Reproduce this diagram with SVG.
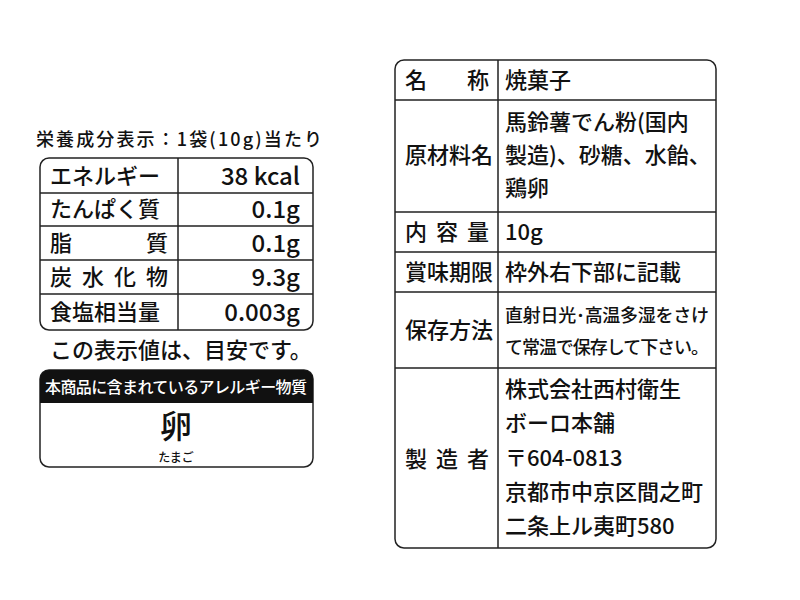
<svg xmlns="http://www.w3.org/2000/svg" width="800" height="600" viewBox="0 0 800 600">
<style>
text{font-family:"Noto Sans CJK JP","Noto Sans",sans-serif;fill:#111;font-weight:500}
.t{font-size:22px}
.s{font-size:18px}
.l{stroke:#222;stroke-width:1.5;fill:none}
</style>
<rect width="800" height="600" fill="#fff"/>
<g id="nutrition">
<text x="36" y="146" font-size="18" textLength="286">栄養成分表示：1袋(10g)当たり</text>
<rect class="l" x="40" y="158" width="273" height="172" rx="9"/>
<path class="l" d="M178 158V330M40 193H313M40 226H313M40 260H313M40 294H313"/>
<text class="t" x="50" y="184">エネルギー</text>
<text class="t" x="50" y="217">たんぱく質</text>
<text class="t" x="50" y="251" textLength="118">脂　　質</text>
<text class="t" x="50" y="285" textLength="118">炭 水 化 物</text>
<text class="t" x="50" y="320">食塩相当量</text>
<g text-anchor="end" font-size="24"><text x="300" y="185">38 kcal</text><text x="300" y="218">0.1g</text><text x="300" y="252">0.1g</text><text x="300" y="286">9.3g</text><text x="300" y="321">0.003g</text></g>
<text class="t" x="50" y="358">この表示値は、目安です。</text>
</g>
<g id="allergen">
<rect class="l" x="40" y="370" width="273" height="97" rx="9"/>
<path d="M49 370H304A9 9 0 0 1 313 379V403H40V379A9 9 0 0 1 49 370Z" fill="#111"/>
<text x="45" y="393" font-size="16" textLength="262" style="fill:#fff">本商品に含まれているアレルギー物質</text>
<text x="176" y="438" font-size="32" text-anchor="middle">卵</text>
<text x="176" y="462" font-size="12" text-anchor="middle">たまご</text>
</g>
<g id="label">
<rect class="l" x="395" y="60" width="321" height="488" rx="9"/>
<path class="l" d="M498 60V548M395 100H716M395 212H716M395 252H716M395 292H716M395 368H716"/>
<g class="t">
<text x="405" y="88" textLength="84">名　　称</text>
<text x="405" y="163">原材料名</text>
<text x="405" y="240" textLength="84">内 容 量</text>
<text x="405" y="280">賞味期限</text>
<text x="405" y="338">保存方法</text>
<text x="405" y="467" textLength="84">製 造 者</text>
<text x="505" y="88">焼菓子</text>
<text x="505" y="130">馬鈴薯でん粉(国内</text>
<text x="505" y="163">製造)、砂糖、水飴、</text>
<text x="505" y="196">鶏卵</text>
<text x="505" y="240">10g</text>
<text x="505" y="280">枠外右下部に記載</text>
</g>
<text class="s" x="505" y="322" textLength="204">直射日光･高温多湿をさけ</text>
<text class="s" x="505" y="354" textLength="204">て常温で保存して下さい。</text>
<g class="t">
<text x="505" y="397">株式会社西村衛生</text>
<text x="505" y="431">ボーロ本舗</text>
<text x="505" y="466">〒604-0813</text>
<text x="505" y="500">京都市中京区間之町</text>
<text x="505" y="534">二条上ル夷町580</text>
</g>
</g>
</svg>
